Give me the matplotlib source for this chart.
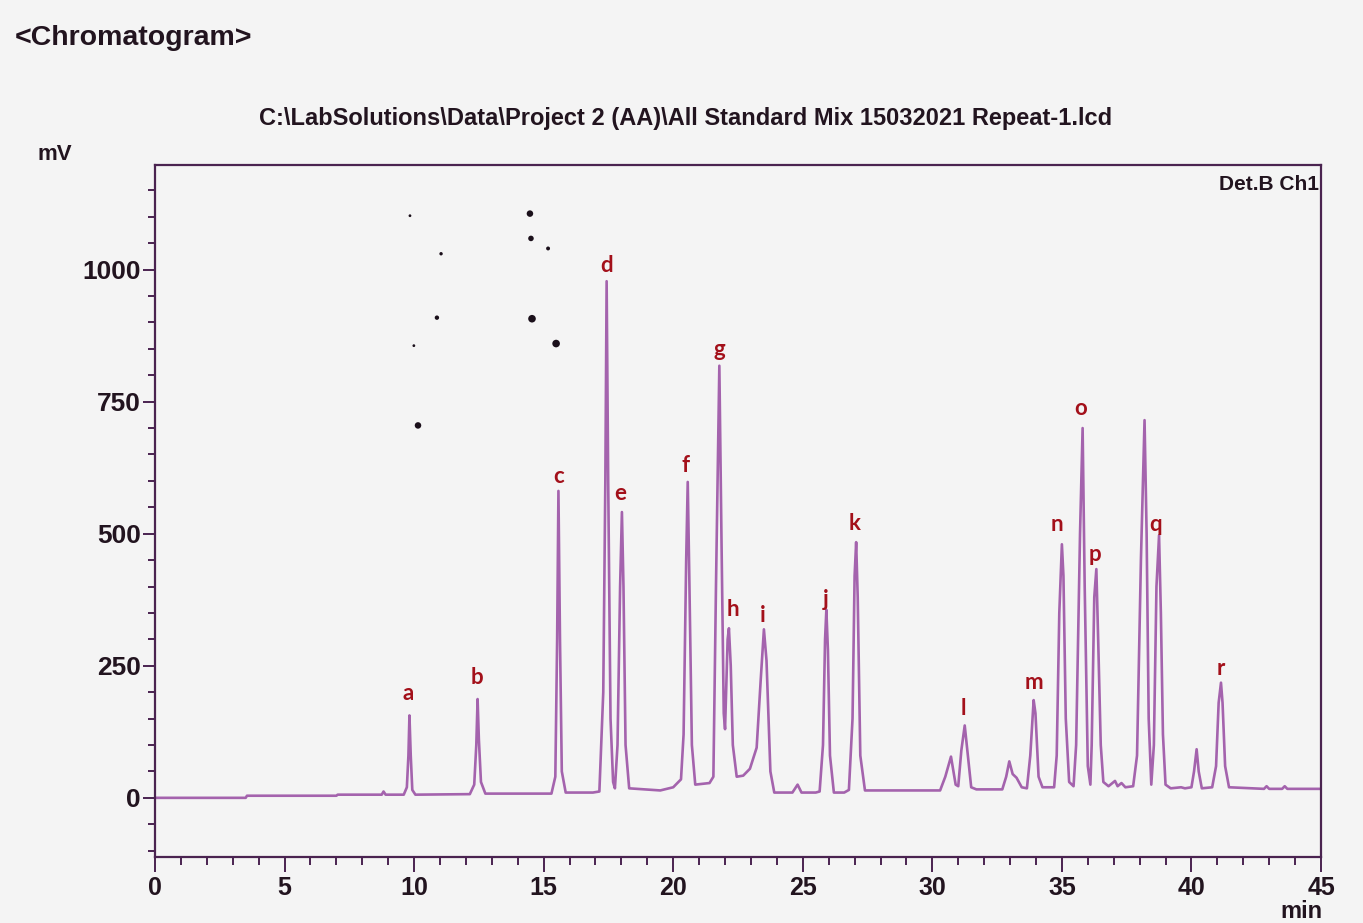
import matplotlib
matplotlib.use("Agg")
import matplotlib.pyplot as plt
from matplotlib.ticker import MultipleLocator

# detector trace: retention time [min] and signal [mV]
trace_min = [
    0, 3.5, 3.55, 7.0, 7.05, 8.75, 8.82, 8.9,
    9.6, 9.72, 9.78, 9.82, 9.87, 9.93, 10.05,
    12.15, 12.32, 12.4, 12.45, 12.5, 12.58, 12.75,
    15.3, 15.45, 15.52, 15.57, 15.63, 15.7, 15.85,
    16.9, 17.15, 17.3, 17.38, 17.43, 17.49, 17.58, 17.68, 17.75,
    17.85, 17.95, 18.02, 18.08, 18.16, 18.3, 19.5,
    20.0, 20.2, 20.3, 20.4, 20.5, 20.56, 20.62, 20.72, 20.85, 21.4,
    21.55, 21.65, 21.78, 21.86, 21.95, 22.0,
    22.1, 22.15, 22.22, 22.3, 22.45, 22.7, 22.96, 23.22, 23.38, 23.5, 23.6, 23.75, 23.9,
    24.6, 24.8, 24.95, 25.5,
    25.65, 25.78, 25.86, 25.91, 25.97, 26.05, 26.2, 26.6,
    26.78, 26.92, 27.0, 27.06, 27.12, 27.22, 27.4, 30.3,
    30.5, 30.72, 30.9, 31.0, 31.12, 31.25, 31.35, 31.5, 31.7, 32.7,
    32.85, 32.97, 33.1, 33.25, 33.45, 33.65,
    33.78, 33.91, 33.98, 34.1, 34.25, 34.7,
    34.8, 34.9, 35.0, 35.06, 35.15, 35.28, 35.45,
    35.55, 35.7, 35.8, 35.88, 35.95, 36.0, 36.1,
    36.15, 36.25, 36.33, 36.4, 36.5, 36.6, 36.8, 37.05, 37.15, 37.3, 37.45, 37.75,
    37.9, 38.05, 38.19, 38.27, 38.35, 38.45,
    38.55, 38.65, 38.75, 38.82, 38.9, 39.0, 39.2, 39.6, 39.75, 40.0,
    40.1, 40.2, 40.28, 40.4, 40.8,
    40.95, 41.05, 41.14, 41.2, 41.3, 41.45, 42.8, 42.9, 43.0, 43.5, 43.6, 43.7, 45.0,
]
trace_mv = [
    0, 0, 4, 4, 6, 6, 12, 6,
    6, 20, 80, 156, 80, 15, 6,
    7, 25, 100, 187, 110, 30, 8,
    8, 40, 300, 581, 300, 50, 10,
    10, 12, 200, 600, 978, 600, 150, 30, 18,
    100, 400, 541, 400, 100, 18, 14,
    20, 30, 35, 120, 450, 598, 420, 100, 25, 28,
    40, 400, 818, 500, 160, 130,
    300, 321, 250, 100, 40, 42, 55, 95, 226, 319, 260, 50, 10,
    10, 25, 10, 10,
    12, 100, 300, 356, 280, 80, 10, 10,
    15, 150, 420, 484, 380, 80, 14, 14,
    40, 78, 25, 22, 90, 137, 90, 20, 16, 16,
    40, 69, 45, 38, 20, 18,
    80, 185, 160, 40, 20, 20,
    80, 350, 480, 420, 150, 30, 22,
    100, 500, 700, 400, 200, 60, 25,
    100, 380, 433, 300, 100, 30, 22, 32, 22, 28, 20, 22,
    80, 450, 715, 500, 150, 25,
    100, 400, 497, 350, 120, 25, 18, 20, 18, 20,
    50, 92, 50, 18, 20,
    60, 180, 218, 180, 60, 20, 17, 22, 17, 17, 22, 17, 17,
]

# peak letters and where they were written on the print
peak_ids = list("abcdefghijklmnopqr")
label_min = [9.76, 12.41, 15.57, 17.43, 17.97, 20.47, 21.77, 22.31, 23.47,
             25.90, 27.00, 31.18, 33.91, 34.80, 35.74, 36.28, 38.63, 41.12]
label_mv = [198, 227, 609, 1008, 577, 629, 849, 357, 346,
            376, 520, 170, 218, 518, 737, 461, 518, 245]

# ink specks on the scanned page
speck_min = [10.15, 14.47, 14.51, 14.55, 15.48, 10.88, 11.04, 15.17, 9.84, 9.99]
speck_mv = [705, 1106, 1059, 907, 860, 909, 1030, 1040, 1102, 856]
speck_size = [22, 22, 16, 30, 30, 10, 6, 8, 4, 4]

TRACE = "#a463ad"
AXIS = "#4a2350"
INK = "#22141f"
RED = "#a3101a"
PAPER = "#f4f4f4"


def main() -> None:
    fig = plt.figure(figsize=(13.63, 9.23), dpi=100, facecolor=PAPER)
    ax = fig.add_axes([155 / 1363, 1 - 857 / 923, (1321 - 155) / 1363, (857 - 165) / 923])
    ax.set_facecolor(PAPER)

    ax.plot(trace_min, trace_mv, color=TRACE, lw=1.9, solid_joinstyle="round")
    ax.scatter(speck_min, speck_mv, s=speck_size, color="#1a0f1a", lw=0, zorder=3)

    for pid, t, mv in zip(peak_ids, label_min, label_mv):
        ax.text(t, mv, pid, color=RED, fontsize=16, fontweight="bold",
                family="Lato", ha="center", va="center")

    ax.set_xlim(0, 45)
    ax.set_ylim(-112, 1198)
    ax.xaxis.set_major_locator(MultipleLocator(5))
    ax.xaxis.set_minor_locator(MultipleLocator(1))
    ax.yaxis.set_major_locator(MultipleLocator(250))
    ax.yaxis.set_minor_locator(MultipleLocator(50))
    ax.tick_params(which="both", direction="out", color=AXIS, width=1.4, labelcolor=INK)
    ax.tick_params(which="major", length=11, pad=3)
    ax.tick_params(which="minor", length=6)
    ax.tick_params(axis="y", which="major", length=9, labelsize=19, pad=1)
    ax.tick_params(axis="y", which="minor", length=5)
    ax.tick_params(axis="x", labelsize=18)
    for lab in ax.get_xticklabels() + ax.get_yticklabels():
        lab.set_fontweight("bold")
        lab.set_family("Liberation Sans")
    for side in ax.spines.values():
        side.set_color(AXIS)
        side.set_linewidth(1.6)

    ax.text(0.998, 0.985, "Det.B Ch1", transform=ax.transAxes, ha="right", va="top",
            fontsize=15, fontweight="bold", color=INK, family="Liberation Sans")

    fig.text(15 / 1363, 1 - 38 / 923, "<Chromatogram>", fontsize=20.5, fontweight="bold",
             color=INK, family="Liberation Sans", va="center", ha="left")
    fig.text(686 / 1363, 1 - 118 / 923,
             r"C:\LabSolutions\Data\Project 2 (AA)\All Standard Mix 15032021 Repeat-1.lcd",
             fontsize=17, fontweight="bold", color=INK, family="Liberation Sans",
             ha="center", va="center")
    fig.text(55 / 1363, 1 - 155 / 923, "mV", fontsize=16, fontweight="bold", color=INK,
             family="Liberation Sans", ha="center", va="center")
    fig.text(1301 / 1363, 1 - 911 / 923, "min", fontsize=17, fontweight="bold", color=INK,
             family="Liberation Sans", ha="center", va="center")

    fig.savefig("out.png", dpi=100, facecolor=PAPER)


if __name__ == "__main__":
    main()
